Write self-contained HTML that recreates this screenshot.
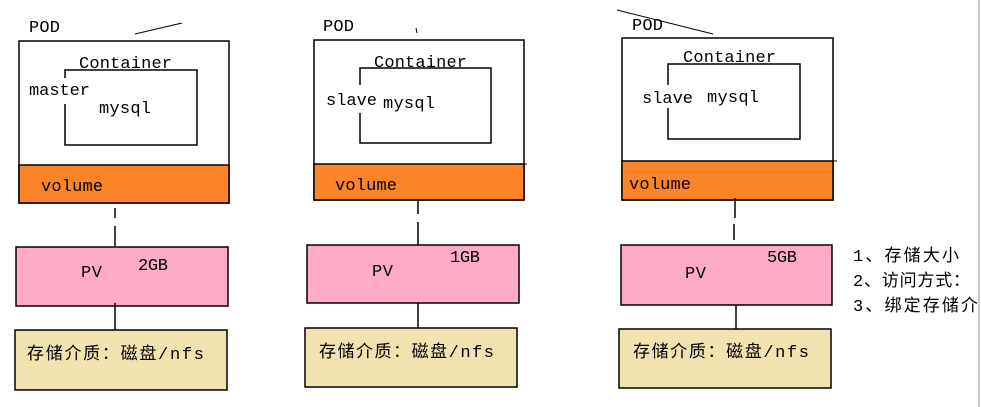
<!DOCTYPE html>
<html><head><meta charset="utf-8"><style>
html,body{margin:0;padding:0;background:#fff;width:981px;height:407px;overflow:hidden}
text{font-family:"Liberation Mono","Noto Sans CJK SC",monospace;font-size:17px;fill:#000}
.cjk{font-family:"Liberation Mono","Noto Sans CJK SC",sans-serif;font-size:17px}
</style></head><body>
<svg width="981" height="407" viewBox="0 0 981 407" xmlns="http://www.w3.org/2000/svg">
<g stroke="#000" stroke-width="1.5">
<rect x="19" y="41" width="210" height="162" fill="#fff"/>
<rect x="19" y="165" width="210" height="38" fill="#fb8429"/>
<rect x="65" y="70" width="132" height="75" fill="#fff"/>
<line x1="135" y1="34" x2="182" y2="23" stroke-width="1"/>
<line x1="115" y1="208" x2="115" y2="218"/><line x1="115" y1="226" x2="115" y2="246"/>
<rect x="16" y="247" width="212" height="59" fill="#ffaac8"/>
<line x1="115" y1="303" x2="115" y2="331"/>
<rect x="15" y="330" width="212" height="60" fill="#efe3b0"/>
<rect x="314" y="40" width="210" height="160" fill="#fff"/>
<rect x="314" y="164" width="210" height="36" fill="#fb8429"/>
<line x1="524" y1="164" x2="527" y2="164" stroke-width="1"/>
<rect x="360" y="68" width="131" height="75" fill="#fff"/>
<line x1="416" y1="28" x2="417" y2="33" stroke-width="1"/>
<line x1="418" y1="201" x2="418" y2="214"/><line x1="418" y1="222" x2="418" y2="245"/>
<rect x="307" y="245" width="212" height="58" fill="#ffaac8"/>
<line x1="418" y1="303" x2="418" y2="329"/>
<rect x="305" y="328" width="212" height="59" fill="#efe3b0"/>
<rect x="622" y="38" width="211" height="162" fill="#fff"/>
<rect x="622" y="161" width="211" height="39" fill="#fb8429"/>
<line x1="833" y1="161" x2="837" y2="161" stroke-width="1"/>
<rect x="668" y="64" width="132" height="75" fill="#fff"/>
<line x1="617" y1="10" x2="713" y2="34" stroke-width="1"/>
<line x1="735" y1="198" x2="735" y2="218"/><line x1="734" y1="224" x2="734" y2="240"/>
<rect x="621" y="245" width="211" height="60" fill="#ffaac8"/>
<line x1="736" y1="305" x2="736" y2="330"/>
<rect x="619" y="329" width="212" height="59" fill="#efe3b0"/>
<line x1="979" y1="0" x2="979" y2="407" stroke="#bbb" stroke-width="1.5"/>
</g>
<rect x="60" y="78" width="12" height="26" fill="#fff"/>
<rect x="355" y="85" width="12" height="28" fill="#fff"/>
<rect x="663" y="85" width="12" height="23" fill="#fff"/>
<rect x="80" y="54" width="94" height="15" fill="#fff"/>
<rect x="374" y="52" width="94" height="15" fill="#fff"/>
<rect x="683" y="48" width="94" height="15" fill="#fff"/>
<text x="29" y="32" textLength="31">POD</text>
<text x="79" y="68" textLength="93">Container</text>
<text x="29" y="95" textLength="61">master</text>
<text x="99" y="113" textLength="52">mysql</text>
<text x="41" y="191" textLength="62">volume</text>
<text x="81" y="277" textLength="21">PV</text>
<text x="138" y="270" textLength="30">2GB</text>
<text class="cjk" x="27" y="359" textLength="177">存储介质：磁盘/nfs</text>
<text x="323" y="31" textLength="31">POD</text>
<text x="374" y="67" textLength="93">Container</text>
<text x="326" y="105" textLength="51">slave</text>
<text x="383" y="108" textLength="52">mysql</text>
<text x="335" y="190" textLength="62">volume</text>
<text x="372" y="276" textLength="21">PV</text>
<text x="450" y="262" textLength="30">1GB</text>
<text class="cjk" x="319" y="357" textLength="175">存储介质：磁盘/nfs</text>
<text x="632" y="30" textLength="31">POD</text>
<text x="683" y="62" textLength="93">Container</text>
<text x="642" y="103" textLength="51">slave</text>
<text x="707" y="102" textLength="52">mysql</text>
<text x="629" y="189" textLength="62">volume</text>
<text x="685" y="278" textLength="21">PV</text>
<text x="767" y="262" textLength="30">5GB</text>
<text class="cjk" x="633" y="357" textLength="176">存储介质：磁盘/nfs</text>
<text class="cjk" x="853" y="261" textLength="106">1、存储大小</text>
<text class="cjk" x="853" y="286" textLength="117">2、访问方式：</text>
<text class="cjk" x="853" y="311" textLength="125">3、绑定存储介</text>
</svg>
</body></html>
